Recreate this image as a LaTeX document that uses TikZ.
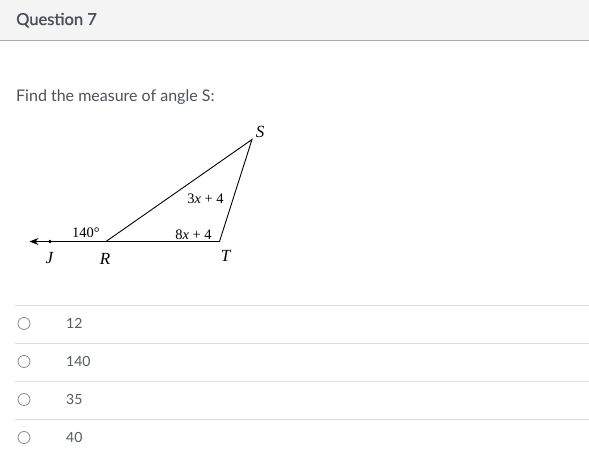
\documentclass[tikz,border=0pt]{standalone}
\usepackage{fontspec}
\setmainfont{Lato}
\newfontfamily\tnr{Liberation Serif}
\newfontfamily\semib{Lato}[BoldFont=Lato, BoldFeatures={FakeBold=1.2}]
\usetikzlibrary{arrows.meta}
\definecolor{hdrbg}{HTML}{F4F4F4}
\definecolor{hdrline}{HTML}{AAAAAA}
\definecolor{hdrtxt}{HTML}{4A5057}
\definecolor{bodytxt}{HTML}{4D5257}
\definecolor{opttxt}{HTML}{555B60}
\definecolor{sepline}{HTML}{DDDDDD}
\definecolor{radio}{HTML}{8A8A8A}
\tikzset{
  geo/.style={line width=0.9pt, black},
  lbl/.style={font=\tnr\fontsize{14.5}{16}\selectfont, inner sep=0pt},
  vlbl/.style={font=\tnr\itshape\fontsize{17}{19}\selectfont, inner sep=0pt},
  radiobtn/.style={circle, draw=radio, line width=0.8pt, minimum size=12pt, inner sep=0pt},
  opt/.style={anchor=base west, font=\fontsize{14}{16}\selectfont, text=opttxt, inner sep=0pt},
  sep/.style={draw=sepline, line width=1pt}
}
\begin{document}
\begin{tikzpicture}[x=1pt,y=-1pt]
\useasboundingbox (0,0) rectangle (589,468);
\fill[white] (0,0) rectangle (589,468);
% header
\fill[hdrbg] (0,0) rectangle (589,41);
\draw[hdrline, line width=1pt] (0,41) -- (589,41);
\node[anchor=base west, inner sep=0pt, text=hdrtxt, font=\semib\bfseries\fontsize{16.5}{20}\selectfont] (title) at (16,25) {Question 7};
\node[anchor=base west, inner sep=0pt, text=bodytxt, font=\fontsize{16}{18}\selectfont] (prompt) at (16,101.5) {Find the measure of angle S:};
% geometry
\coordinate (A) at (29.5,241.5);
\coordinate (J) at (50,241.5);
\coordinate (R) at (106,241.5);
\coordinate (T) at (219.5,241.5);
\coordinate (S) at (252,139.5);
\draw[geo, {Stealth[length=9pt,width=7pt,inset=3pt]}-] (A) -- (T);
\draw[geo] (R) -- (S) -- (T);
\fill (J) circle (1.8pt);
\node[vlbl] (Jl) at (49.5,258.5) {J};
\node[vlbl] (Rl) at (105,258.5) {R};
\node[vlbl] (Tl) at (225.5,256) {T};
\node[vlbl] (Sl) at (260,131.5) {S};
\node[lbl] (a140) at (86,233) {140°};
\node[lbl] (a3x) at (205.5,198.5) {3\textit{x} + 4};
\node[lbl] (a8x) at (193.5,234.5) {8\textit{x} + 4};
% options
\draw[sep] (15,305) -- (589,305);
\draw[sep] (15,343) -- (589,343);
\draw[sep] (15,381) -- (589,381);
\draw[sep] (15,419) -- (589,419);
\node[radiobtn] (r1) at (24,323.5) {};
\node[radiobtn] (r2) at (24,361.5) {};
\node[radiobtn] (r3) at (24,399.5) {};
\node[radiobtn] (r4) at (24,437.5) {};
\node[opt] (o1) at (66,328.3) {12};
\node[opt] (o2) at (66,366.3) {140};
\node[opt] (o3) at (66,404.3) {35};
\node[opt] (o4) at (66,442.3) {40};
\end{tikzpicture}
\end{document}
